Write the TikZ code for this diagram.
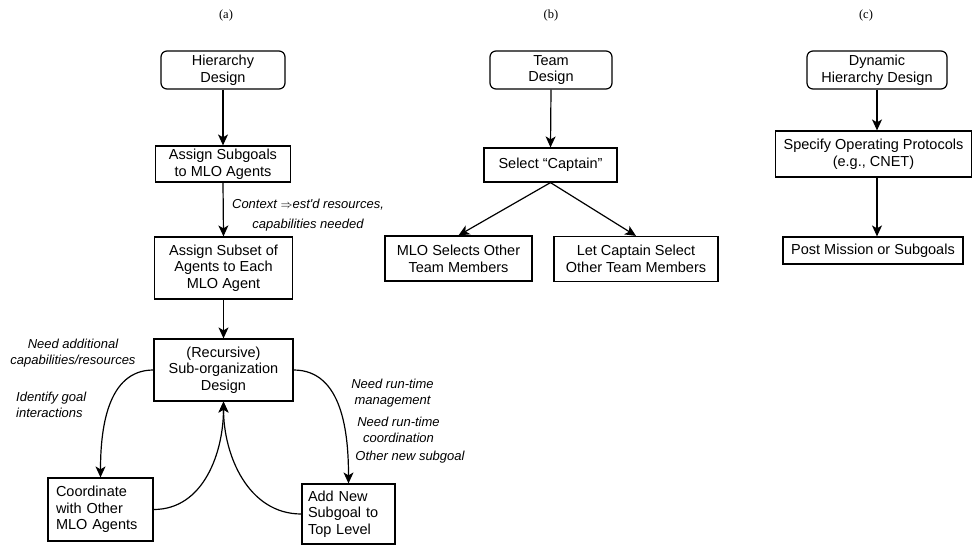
\documentclass[tikz,border=0pt]{standalone}
\usepackage{fontspec}
\setmainfont{Liberation Serif}
\newfontfamily\boxfont{Liberation Sans}
\usetikzlibrary{arrows.meta,calc}
\begin{document}
\begin{tikzpicture}[x=1pt,y=-1pt,
  box/.style={draw, line width=1.2pt, rectangle, inner sep=0pt, align=center,
    font=\boxfont\fontsize{14.5}{16.7}\selectfont},
  rbox/.style={box, rounded corners=6pt},
  lbl/.style={font=\boxfont\itshape\fontsize{13}{16}\selectfont, inner sep=0pt, align=center},
  ttl/.style={font=\fontsize{12.5}{14}\selectfont, inner sep=0pt},
  arr/.style={line width=1.2pt, -{Stealth[length=11pt,width=10pt,inset=3pt]}}]
\useasboundingbox (0,0) rectangle (972,546);

% titles
\node[ttl] (ta) at (226,15) {(a)};
\node[ttl] (tb) at (551,15) {(b)};
\node[ttl] (tc) at (866,15) {(c)};

% (a)
\node[rbox, minimum width=124, minimum height=38] (hd) at (223,70) {Hierarchy\\Design};
\node[box, minimum width=135, minimum height=36] (as) at (223,164) {Assign Subgoals\\to MLO Agents};
\node[box, minimum width=138, minimum height=62] (asub) at (223.5,268) {Assign Subset of\\Agents to Each\\MLO Agent};
\node[box, minimum width=139, minimum height=62] (rec) at (223.5,370) {(Recursive)\\Sub-organization\\Design};
\node[box, align=left, minimum width=105, minimum height=63, text width=89] (coord) at (100.5,509.5) {Coordinate\\with Other\\MLO Agents};
\node[box, align=left, minimum width=93, minimum height=60, text width=81] (addn) at (348.5,514) {Add New\\Subgoal to\\Top Level};

\draw[arr] (hd.south) -- (as.north);
\draw[arr] (as.south) -- (asub.north);
\draw[arr] (asub.south) -- (rec.north);
\draw[arr] (rec.west) to[out=180,in=90] (coord.north);
\draw[arr] (rec.east) to[out=0,in=90] (addn.north);
\draw[arr] (coord.east) to[out=0,in=-90] (rec.south);
\draw[arr] (addn.west) to[out=180,in=-90] (rec.south);

\node[lbl] (l1) at (308,205) {Context $\Rightarrow$est'd resources,};
\node[lbl] (l2) at (308,225) {capabilities needed};
\node[lbl] (l3) at (73,353) {Need additional\\capabilities/resources};
\node[lbl, align=left, anchor=west] (l4) at (16,405) {Identify goal\\interactions};
\node[lbl] (l5) at (392.5,393) {Need run-time\\management};
\node[lbl] (l6) at (398.5,430) {Need run-time\\coordination};
\node[lbl] (l7) at (410,457) {Other new subgoal};

% (b)
\node[rbox, minimum width=122, minimum height=38] (td) at (551,70) {Team\\Design};
\node[box, minimum width=133, minimum height=34] (cap) at (550.5,165) {Select “Captain”};
\node[box, minimum width=147, minimum height=45] (mlo) at (458.5,258.5) {MLO Selects Other\\Team Members};
\node[box, minimum width=164, minimum height=45] (let) at (636,259) {Let Captain Select\\Other Team Members};
\draw[arr] (td.south) -- (cap.north);
\draw[arr] (cap.south) -- (mlo.north);
\draw[arr] (cap.south) -- (let.north);

% (c)
\node[rbox, minimum width=140, minimum height=38] (dhd) at (877,70) {Dynamic\\Hierarchy Design};
\node[box, minimum width=196, minimum height=46] (spec) at (873.5,154) {Specify Operating Protocols\\(e.g., CNET)};
\node[box, minimum width=180, minimum height=27] (post) at (873,250.5) {Post Mission or Subgoals};
\draw[arr] (dhd.south) -- (dhd.south |- spec.north);
\draw[arr] (dhd.south |- spec.south) -- (dhd.south |- post.north);
\end{tikzpicture}
\end{document}
